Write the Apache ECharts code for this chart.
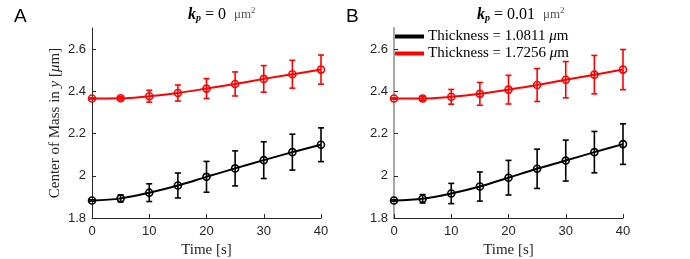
<!DOCTYPE html>
<html><head><meta charset="utf-8">
<script src="https://cdn.jsdelivr.net/npm/echarts@6/dist/echarts.min.js"></script>
<style>html,body{margin:0;padding:0;background:#fff}#c{width:690px;height:259px}</style>
</head><body><div id="c"></div>
<script>
const time = [0, 5, 10, 15, 20, 25, 30, 35, 40];
const yTicks = [1.8, 2.0, 2.2, 2.4, 2.6];
const xTicks = [0, 10, 20, 30, 40];
const seriesNames = ['Thickness = 1.0811 μm', 'Thickness = 1.7256 μm'];
// Panel A (kp = 0)
const aBlack = [1.883, 1.893, 1.920, 1.954, 1.995, 2.035, 2.074, 2.112, 2.147];
const aBlackErr = [0.003, 0.017, 0.042, 0.059, 0.073, 0.083, 0.087, 0.085, 0.080];
const aRed = [2.366, 2.367, 2.377, 2.392, 2.413, 2.435, 2.459, 2.481, 2.503];
const aRedErr = [0.003, 0.008, 0.028, 0.038, 0.047, 0.057, 0.063, 0.066, 0.069];
// Panel B (kp = 0.01)
const bBlack = [1.883, 1.891, 1.916, 1.949, 1.991, 2.033, 2.072, 2.112, 2.150];
const bBlackErr = [0.003, 0.020, 0.048, 0.069, 0.082, 0.093, 0.097, 0.098, 0.096];
const bRed = [2.366, 2.366, 2.374, 2.388, 2.408, 2.430, 2.455, 2.479, 2.503];
const bRedErr = [0.003, 0.010, 0.035, 0.054, 0.068, 0.078, 0.086, 0.091, 0.095];

const chart = echarts.init(document.getElementById('c'), null, {renderer: 'canvas'});
const serif = '"Liberation Serif", "DejaVu Serif", serif';
const sans = '"Liberation Sans", Arial, sans-serif';
const axisCol = '#262626';

function xAxis(grid) {
  return {
    type: 'value', gridIndex: grid, min: 0, max: 40, interval: 10,
    axisLine: {show: true, onZero: false, lineStyle: {color: axisCol, width: 1}},
    axisTick: {show: true, inside: true, length: 4, lineStyle: {color: axisCol}},
    axisLabel: {color: axisCol, fontFamily: sans, fontSize: 13, margin: 7},
    splitLine: {show: false},
    name: 'Time [s]', nameLocation: 'middle', nameGap: 22,
    nameTextStyle: {color: axisCol, fontFamily: serif, fontSize: 15}
  };
}
function yAxis(grid, lineCol, lineW, withName) {
  const o = {
    type: 'value', gridIndex: grid, min: 1.8, max: 2.7,
    axisLine: {show: true, onZero: false, lineStyle: {color: lineCol, width: lineW}},
    axisTick: {show: true, inside: true, length: 4, lineStyle: {color: axisCol},
      customValues: yTicks},
    axisLabel: {color: axisCol, fontFamily: sans, fontSize: 13, margin: 6,
      customValues: yTicks,
      formatter: v => (Math.abs(v - 2) < 1e-6) ? '2' : (Math.round(v * 10) / 10).toFixed(1)},
    splitLine: {show: false}
  };
  if (withName) {
    o.name = '{n|Center of Mass in }{i|y}{n| [}{i|μ}{n|m]}';
    o.nameLocation = 'middle';
    o.nameGap = 29;
    o.nameTextStyle = {rich: {
      n: {fontFamily: serif, fontSize: 15, color: axisCol},
      i: {fontFamily: serif, fontSize: 15, color: axisCol, fontStyle: 'italic'}
    }};
  }
  return o;
}

function errSeries(name, grid, vals, errs, color) {
  return {
    type: 'custom', name: name + '_err', xAxisIndex: grid, yAxisIndex: grid,
    data: time.map((t, i) => [t, vals[i] - errs[i], vals[i] + errs[i]]),
    encode: {x: 0, y: [1, 2]},
    z: 1, silent: true,
    renderItem: (params, api) => {
      const x = api.value(0);
      const lo = api.coord([x, api.value(1)]);
      const hi = api.coord([x, api.value(2)]);
      const cap = 3;
      const st = {stroke: color, lineWidth: 1.6};
      return {type: 'group', children: [
        {type: 'line', shape: {x1: lo[0], y1: lo[1], x2: hi[0], y2: hi[1]}, style: st},
        {type: 'line', shape: {x1: lo[0] - cap, y1: lo[1], x2: lo[0] + cap, y2: lo[1]}, style: st},
        {type: 'line', shape: {x1: hi[0] - cap, y1: hi[1], x2: hi[0] + cap, y2: hi[1]}, style: st}
      ]};
    }
  };
}
function lineSeries(name, grid, vals, color) {
  return {
    type: 'line', name: name, xAxisIndex: grid, yAxisIndex: grid,
    data: time.map((t, i) => [t, vals[i]]),
    smooth: 0.35, symbol: 'circle', symbolSize: 7, showSymbol: true,
    lineStyle: {color: color, width: 2},
    itemStyle: {color: 'rgba(255,255,255,0)', borderColor: color, borderWidth: 1.6},
    z: 3, silent: true, animation: false
  };
}

const legendRich = {
  n: {fontFamily: serif, fontSize: 15, color: '#000'},
  i: {fontFamily: serif, fontSize: 15, color: '#000', fontStyle: 'italic'}
};

function titleText(val) {
  return '{k|k}{p|p}{e| = ' + val + '  }{u|μm}{s|2}';
}
const titleRich = {
  k: {fontFamily: serif, fontSize: 16, fontStyle: 'italic', fontWeight: 'bold', color: '#000'},
  p: {fontFamily: serif, fontSize: 10, fontStyle: 'italic', fontWeight: 'bold', color: '#000', padding: [7, 0, 0, 0]},
  e: {fontFamily: serif, fontSize: 16, fontWeight: 'normal', color: '#000'},
  u: {fontFamily: serif, fontSize: 13, fontWeight: 'normal', color: '#555'},
  s: {fontFamily: serif, fontSize: 9, fontWeight: 'normal', color: '#555', padding: [0, 0, 7, 0]}
};

chart.setOption({
  animation: false,
  backgroundColor: '#fff',
  title: [
    {text: 'A', left: 9, top: 2, textStyle: {fontFamily: sans, fontSize: 19, fontWeight: 'normal', color: '#000'}},
    {text: 'B', left: 341, top: 2, textStyle: {fontFamily: sans, fontSize: 19, fontWeight: 'normal', color: '#000'}},
    {text: titleText('0'), left: 183, top: 1, textStyle: {fontWeight: 'normal', rich: titleRich}},
    {text: titleText('0.01'), left: 472, top: 1, textStyle: {fontWeight: 'normal', rich: titleRich}}
  ],
  legend: {
    show: true, orient: 'vertical', left: 395, top: 29, padding: 0,
    data: [
      {name: seriesNames[0], itemStyle: {color: '#000000'}},
      {name: seriesNames[1], itemStyle: {color: '#ff0000'}}
    ],
    itemWidth: 27, itemHeight: 2, itemGap: 2,
    icon: 'rect', selectedMode: false,
    formatter: n => '{n|' + n.replace(' μm', ' ') + '}{i|μ}{n|m}',
    textStyle: {rich: legendRich, lineHeight: 15}
  },
  grid: [
    {left: 92, top: 28, width: 229, height: 190, outerBoundsMode: 'none', containLabel: false},
    {left: 394, top: 28, width: 229, height: 190, outerBoundsMode: 'none', containLabel: false}
  ],
  xAxis: [xAxis(0), xAxis(1)],
  yAxis: [yAxis(0, axisCol, 1, true), yAxis(1, '#a6a6a6', 2, false)],
  series: [
    errSeries('a_red', 0, aRed, aRedErr, '#ff0000'),
    errSeries('a_black', 0, aBlack, aBlackErr, '#000000'),
    errSeries('b_red', 1, bRed, bRedErr, '#ff0000'),
    errSeries('b_black', 1, bBlack, bBlackErr, '#000000'),
    lineSeries(seriesNames[1], 0, aRed, '#ff0000'),
    lineSeries(seriesNames[0], 0, aBlack, '#000000'),
    lineSeries(seriesNames[1], 1, bRed, '#ff0000'),
    lineSeries(seriesNames[0], 1, bBlack, '#000000')
  ]
});
</script></body></html>
